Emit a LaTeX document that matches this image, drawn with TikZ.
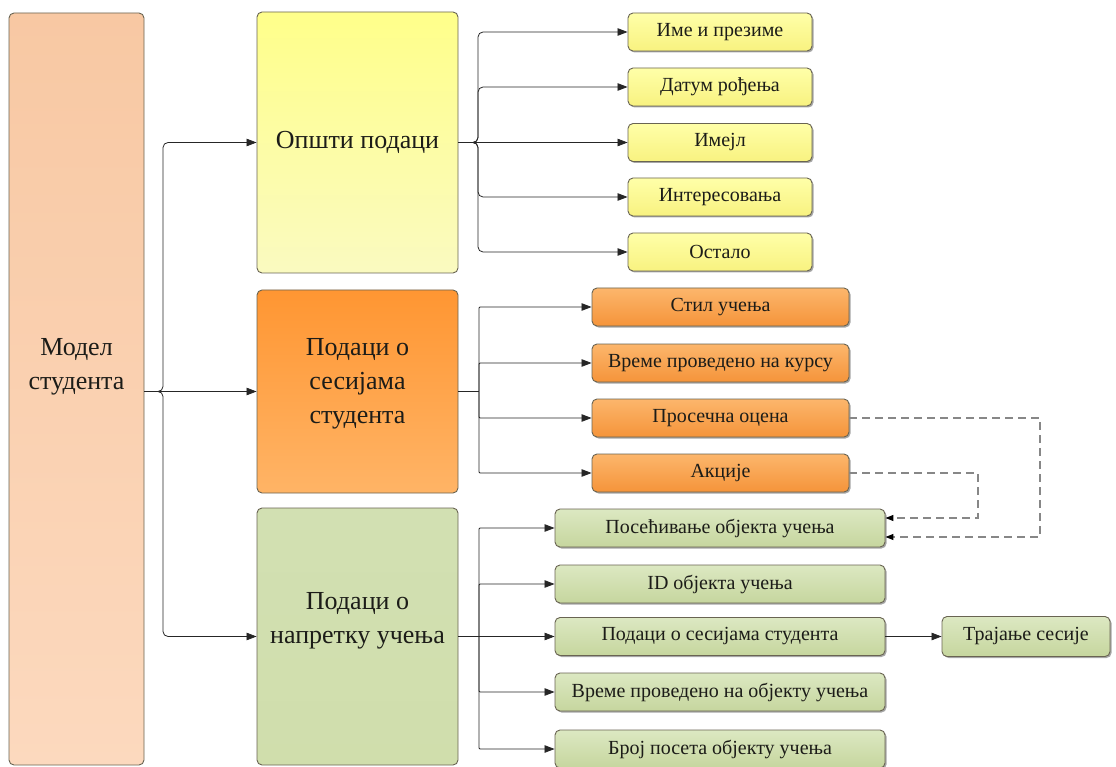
\documentclass[tikz,border=0pt]{standalone}
\usepackage{fontspec}
\setmainfont{Liberation Serif}
\usetikzlibrary{arrows.meta,shadows,calc}

\definecolor{edgec}{RGB}{105,100,82}
\definecolor{txtc}{RGB}{28,28,24}
\definecolor{peachT}{RGB}{248,200,163}
\definecolor{peachB}{RGB}{252,217,190}
\definecolor{yelT}{RGB}{255,255,138}
\definecolor{yelB}{RGB}{250,250,192}
\definecolor{ysT}{RGB}{255,255,168}
\definecolor{ysB}{RGB}{248,242,128}
\definecolor{orT}{RGB}{255,150,50}
\definecolor{orB}{RGB}{255,180,102}
\definecolor{osT}{RGB}{252,182,108}
\definecolor{osB}{RGB}{245,148,58}
\definecolor{grT}{RGB}{210,224,178}
\definecolor{grB}{RGB}{208,222,172}
\definecolor{gsT}{RGB}{220,232,194}
\definecolor{gsB}{RGB}{198,214,158}
\definecolor{dashc}{RGB}{135,135,135}

\tikzset{
  box/.style={draw=edgec, line width=0.9pt, rounded corners=5pt, inner sep=0pt,
    align=center, text=txtc},
  bigfont/.style={font=\fontsize{26}{34}\selectfont},
  bigbox/.style={box, minimum width=201pt, bigfont},
  smallbox/.style={box, minimum height=38pt, font=\fontsize{20}{24}\selectfont,
    drop shadow={shadow xshift=1.5pt, shadow yshift=-1.5pt, opacity=0.35, fill=black}},
  ybox/.style={smallbox, top color=ysT, bottom color=ysB, minimum width=184pt},
  obox/.style={smallbox, top color=osT, bottom color=osB, minimum width=257pt},
  gbox/.style={smallbox, top color=gsT, bottom color=gsB, minimum width=330pt},
  lbl/.style={bigfont, text=txtc, align=center},
  conn/.style={draw=black!85, line width=0.8pt, -{Triangle[length=10pt,width=7.5pt]}},
  plain/.style={draw=black!85, line width=0.8pt},
  dconn/.style={draw=dashc, line width=1.1pt, dash pattern=on 8pt off 5pt,
    -{Triangle[length=8pt,width=6pt,color=black]}},
}

\begin{document}
\begin{tikzpicture}[x=1pt, y=-1pt]
\useasboundingbox (0,0) rectangle (1116,767);

% root
\node[box, top color=peachT, bottom color=peachB, minimum width=135pt, minimum height=752pt] (M) at (76.5,389) {};
\node[lbl] (Mt) at (76.5,367) {Модел\\студента};

% three groups
\node[bigbox, top color=yelT, bottom color=yelB, minimum height=261pt] (G1) at (357.5,142.5) {Општи подаци};
\node[bigbox, top color=orT, bottom color=orB, minimum height=203pt] (G2) at (357.5,391.5) {};
\node[lbl] (G2t) at (357.5,384) {Подаци о\\сесијама\\студента};
\node[bigbox, top color=grT, bottom color=grB, minimum height=257pt] (G3) at (357.5,636.5) {};
\node[lbl] (G3t) at (357.5,621) {Подаци о\\напретку учења};

% general data
\node[ybox] (Y1) at (720,32)    {Име и презиме};
\node[ybox] (Y2) at (720,87)    {Датум рођења};
\node[ybox] (Y3) at (720,142.5) {Имејл};
\node[ybox] (Y4) at (720,197)   {Интересовања};
\node[ybox] (Y5) at (720,252)   {Остало};

% session data
\node[obox] (O1) at (720.5,307) {Стил учења};
\node[obox] (O2) at (720.5,363) {Време проведено на курсу};
\node[obox] (O3) at (720.5,418) {Просечна оцена};
\node[obox] (O4) at (720.5,473) {Акције};

% learning progress
\node[gbox] (P1) at (720,528)   {Посећивање објекта учења};
\node[gbox] (P2) at (720,584)   {ID објекта учења};
\node[gbox] (P3) at (720,636.5) {Подаци о сесијама студента};
\node[gbox] (P4) at (720,692)   {Време проведено на објекту учења};
\node[gbox] (P5) at (720,749)   {Број посета објекту учења};
\node[gbox, minimum width=168pt, minimum height=40pt] (T) at (1026,636.5) {Трајање сесије};

% junction columns
\coordinate (jM) at (163,0);
\coordinate (jY) at (478,0);
\coordinate (jO) at (479,0);
\coordinate (jP) at (479,0);
\coordinate (dA) at (1040,0);
\coordinate (dB) at (978,0);

% root to groups
\draw[conn] (G2.west -| M.east) -- (G2.west);
\draw[conn, rounded corners=5pt] (G2.west -| M.east) -- (G2.west -| jM) |- (G1.west);
\draw[conn, rounded corners=5pt] (G2.west -| M.east) -- (G2.west -| jM) |- (G3.west);

% general data branches
\draw[conn] (G1.east) -- (Y3.west);
\foreach \n in {Y1,Y2,Y4,Y5}
  \draw[conn, rounded corners=5pt] (G1.east) -- (G1.east -| jY) |- (\n.west);

% session data branches
\draw[plain] (G2.east) -- (G2.east -| jO);
\foreach \n in {O1,O2,O3,O4}
  \draw[conn, rounded corners=1pt] (G2.east -| jO) |- (\n.west);

% learning progress branches
\draw[conn] (G3.east) -- (P3.west);
\foreach \n in {P1,P2,P4,P5}
  \draw[conn, rounded corners=1pt] (G3.east -| jP) |- (\n.west);

\draw[conn] (P3.east) -- (T.west);

% dashed links
\draw[dconn] (O3.east) -- (O3.east -| dA) |- ([yshift=-9pt]P1.east);
\draw[dconn] (O4.east) -- (O4.east -| dB) |- ([yshift=10pt]P1.east);
\end{tikzpicture}
\end{document}
